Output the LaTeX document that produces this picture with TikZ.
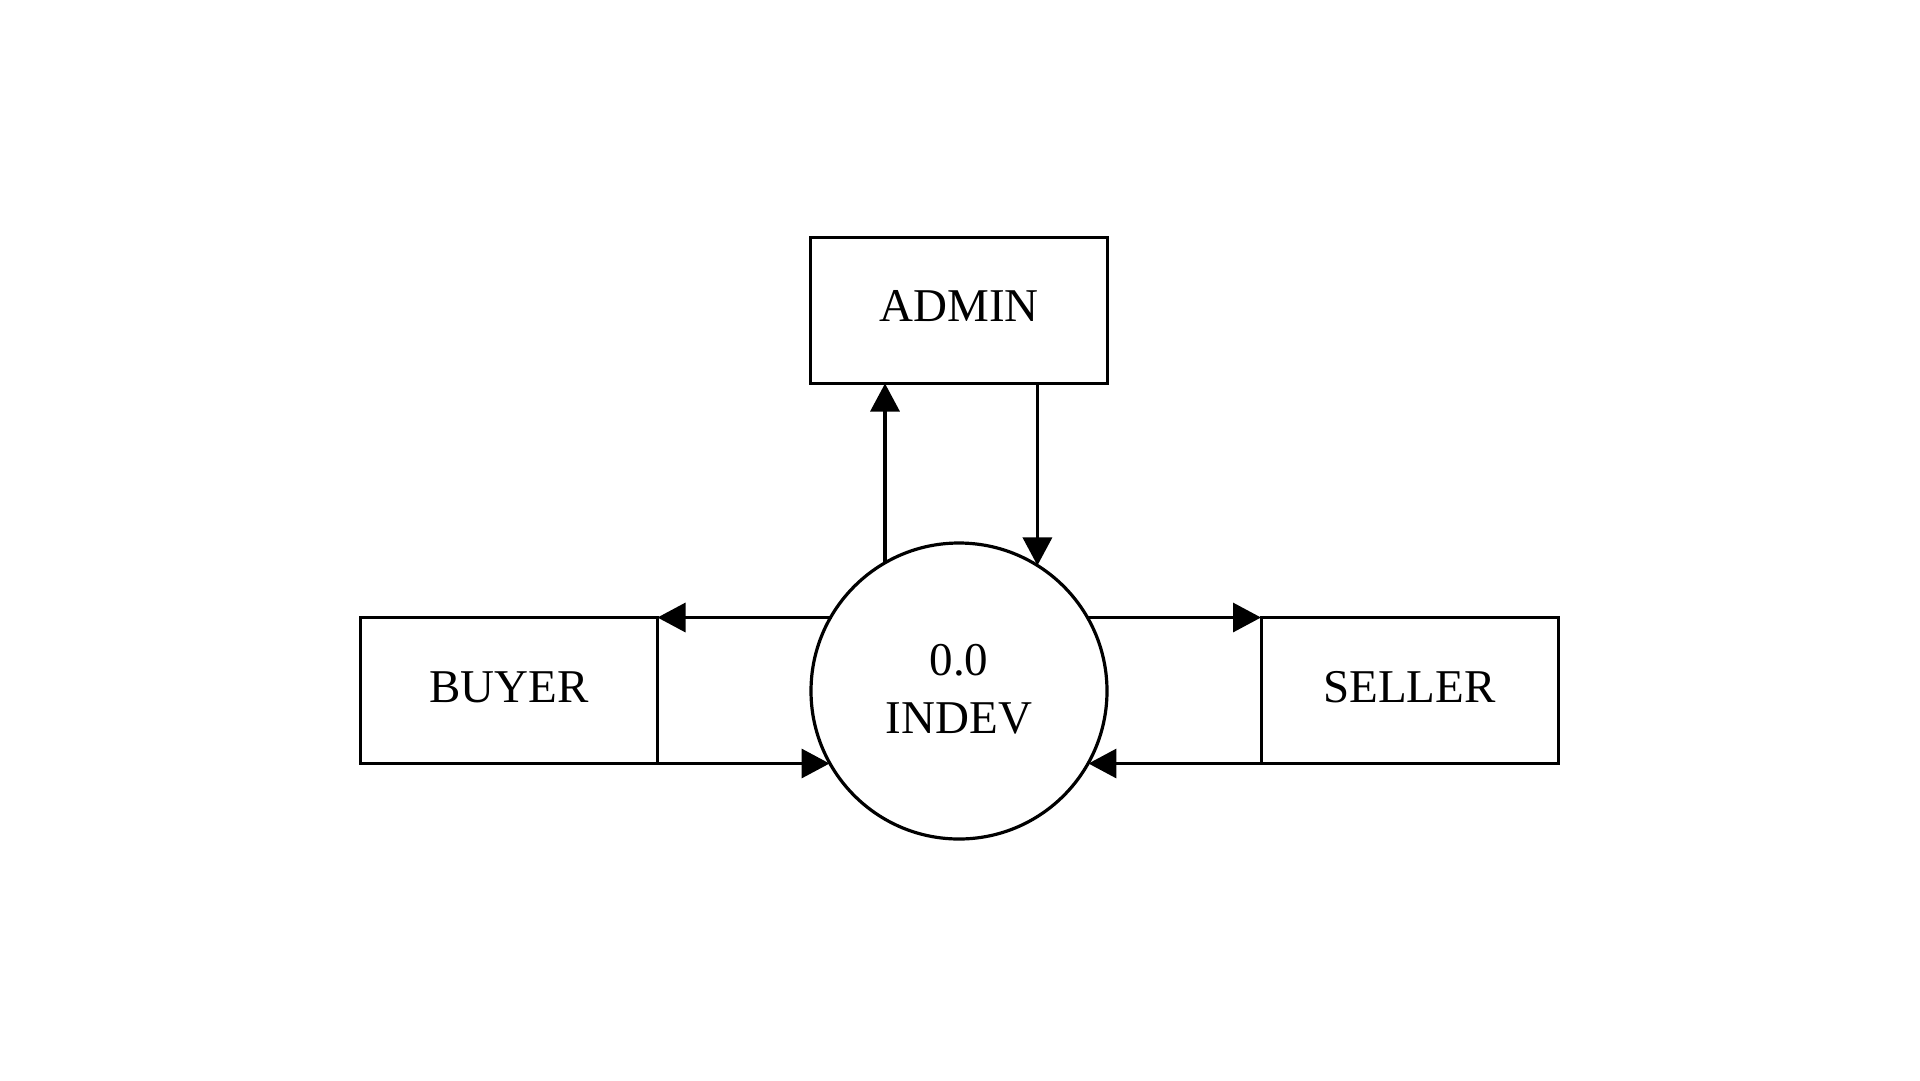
\documentclass[tikz,border=0pt]{standalone}
\usepackage{fontspec}
\setmainfont{Liberation Serif}
\usetikzlibrary{arrows.meta,calc}
\begin{document}
\begin{tikzpicture}[x=1pt,y=-1pt,
  entity/.style={draw,line width=3pt,rectangle,minimum width=297pt,minimum height=146pt,inner sep=0pt,outer sep=0pt,font=\fontsize{47}{56}\selectfont},
  proc/.style={draw,line width=3.2pt,circle,minimum size=296pt,inner sep=0pt,outer sep=0pt,align=center,font=\fontsize{47}{58}\selectfont},
  flow/.style={line width=3.3pt,-{Triangle[length=28pt,width=29pt]}}]
\useasboundingbox (0,0) rectangle (1920,1080);
\node[entity] (admin) at (959,310.5) {\raisebox{10pt}{ADMIN}};
\node[entity] (buyer) at (509,690.5) {\raisebox{7pt}{BUYER}};
\node[entity] (seller) at (1409.5,690.5) {\raisebox{7pt}{SELLER}};
\node[proc] (indev) at (959,691) {\raisebox{4pt}{0.0}\\\raisebox{4pt}{INDEV}};
\draw[flow] (indev.120.5) -- (indev.120.5 |- admin.south);
\draw[flow] (admin.south -| indev.58.6) -- (indev.58.6);
\draw[flow] (buyer.north east -| indev.149.6) -- (buyer.north east);
\draw[flow] (buyer.south east) -- (buyer.south east -| indev.209.1);
\draw[flow] (seller.north west -| indev.30.4) -- (seller.north west);
\draw[flow] (seller.south west) -- (seller.south west -| indev.-29.1);
\end{tikzpicture}
\end{document}
